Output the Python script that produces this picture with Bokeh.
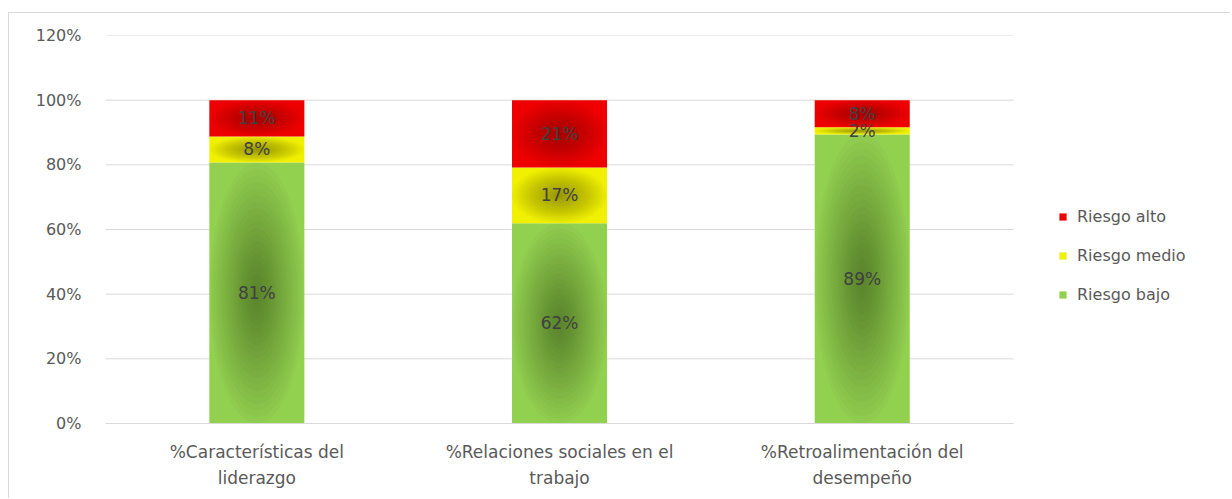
import numpy as np
from bokeh.plotting import figure
from bokeh.models import (ColumnDataSource, Legend, LegendItem, PrintfTickFormatter,
                          Range1d, FixedTicker)
from bokeh.core.properties import value
from bokeh.embed import file_html
from bokeh.resources import INLINE

categories = ["%Características del\nliderazgo",
              "%Relaciones sociales en el\ntrabajo",
              "%Retroalimentación del\ndesempeño"]
series_names = ["Riesgo bajo", "Riesgo medio", "Riesgo alto"]
riesgo_bajo = [80.7, 61.9, 89.4]
riesgo_medio = [8.1, 17.3, 2.2]
riesgo_alto = [11.2, 20.8, 8.4]
labels_bajo = ["81%", "62%", "89%"]
labels_medio = ["8%", "17%", "2%"]
labels_alto = ["11%", "21%", "8%"]
y_ticks = [0, 20, 40, 60, 80, 100, 120]

colors = {"Riesgo bajo": "#92d050", "Riesgo medio": "#f0f000", "Riesgo alto": "#ee0000"}
shade_alpha = {"Riesgo bajo": 0.02, "Riesgo medio": 0.02, "Riesgo alto": 0.014}
BAR_W = 0.314
N_SHADE = 20

xpos = np.arange(len(categories), dtype=float)
x_lo = -0.5
x_hi = len(categories) - 0.5

p = figure(x_range=Range1d(x_lo, 3.22), y_range=Range1d(0, 120), width=1222, height=486,
           output_backend="svg", toolbar_location=None,
           min_border_left=96, min_border_right=0, min_border_top=22, min_border_bottom=76)
p.margin = (12, 0, 0, 8)
p.styles = {"border-top": "1px solid #d9d9d9", "border-left": "1px solid #d9d9d9"}
p.outline_line_color = None
p.background_fill_color = "white"
p.border_fill_color = "white"

# horizontal gridlines restricted to the category area
p.segment(x0=[x_lo] * len(y_ticks), x1=[x_hi] * len(y_ticks), y0=y_ticks, y1=y_ticks,
          line_color="#d9d9d9", line_width=1)

values = [riesgo_bajo, riesgo_medio, riesgo_alto]
labels = [labels_bajo, labels_medio, labels_alto]
bottom = np.zeros(len(categories))
renderers = {}
label_sources = []
for name, vals, labs in zip(series_names, values, labels):
    vals = np.array(vals, dtype=float)
    top = bottom + vals
    src = ColumnDataSource(dict(x=xpos, bottom=bottom.copy(), top=top,
                                mid=(bottom + top) / 2, h=vals, text=labs))
    r = p.vbar(x="x", bottom="bottom", top="top", width=BAR_W, source=src,
               fill_color=colors[name], line_color=None)
    renderers[name] = r
    # radial darkening toward the centre of each segment
    for k in range(N_SHADE, 0, -1):
        f = k / N_SHADE
        ssrc = ColumnDataSource(dict(x=xpos, y=(bottom + top) / 2,
                                     w=[BAR_W * f] * len(categories), hh=vals * f))
        p.ellipse(x="x", y="y", width="w", height="hh", source=ssrc,
                  fill_color="black", fill_alpha=shade_alpha[name], line_color=None)
    label_sources.append(src)
    bottom = top

for src in label_sources:
    p.text(x="x", y="mid", text="text", source=src, text_align="center",
           text_baseline="middle", text_font=value("DejaVu Sans"),
           text_font_size="17px", text_color="#404040")

p.yaxis.ticker = FixedTicker(ticks=y_ticks)
p.yaxis.formatter = PrintfTickFormatter(format="%d%%")
p.yaxis.axis_line_color = None
p.yaxis.major_tick_line_color = None
p.yaxis.minor_tick_line_color = None
p.yaxis.major_label_text_font = "DejaVu Sans"
p.yaxis.major_label_text_font_size = "16px"
p.yaxis.major_label_text_color = "#595959"
p.yaxis.major_label_standoff = 18

p.xaxis.ticker = FixedTicker(ticks=list(xpos))
p.xaxis.major_label_overrides = {float(i): c for i, c in zip(xpos, categories)}
p.xaxis.bounds = (x_lo, x_hi)
p.xaxis.axis_line_color = "#d9d9d9"
p.xaxis.major_tick_line_color = None
p.xaxis.minor_tick_line_color = None
p.xaxis.major_label_text_font = "DejaVu Sans"
p.xaxis.major_label_text_font_size = "17px"
p.xaxis.major_label_text_color = "#595959"
p.xaxis.major_label_text_line_height = 1.3
p.xaxis.major_label_standoff = 12

p.xgrid.grid_line_color = None
p.ygrid.grid_line_color = None

legend = Legend(items=[LegendItem(label="Riesgo alto", renderers=[renderers["Riesgo alto"]]),
                       LegendItem(label="Riesgo medio", renderers=[renderers["Riesgo medio"]]),
                       LegendItem(label="Riesgo bajo", renderers=[renderers["Riesgo bajo"]])],
                location=(953, 119), padding=0, margin=0, spacing=19,
                glyph_width=9, glyph_height=9, label_height=20, label_standoff=10,
                label_text_font="DejaVu Sans", label_text_font_size="16px",
                label_text_color="#595959", border_line_color=None,
                background_fill_alpha=0)
p.add_layout(legend)

open("out.html", "w").write(file_html(p, INLINE))
